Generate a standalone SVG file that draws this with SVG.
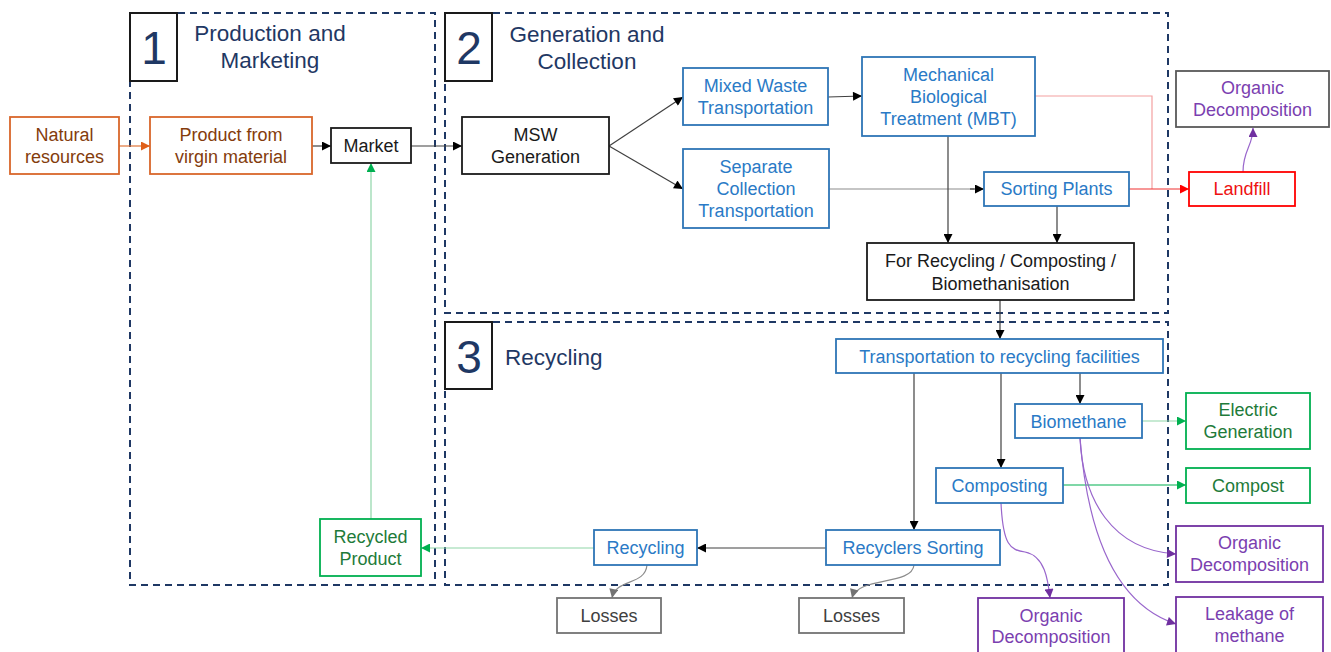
<svg xmlns="http://www.w3.org/2000/svg" width="1331" height="652" viewBox="0 0 1331 652">
  <style>
    text { font-family: "Liberation Sans", Arial, sans-serif; font-size: 18px; text-anchor: middle; }
    .title { font-size: 22.5px; fill: #1f3864; }
    .num { font-size: 46px; fill: #1f3864; }
    .panel { fill: none; stroke: #1f3864; stroke-width: 2; stroke-dasharray: 7 5; }
    .numbox { fill: #fff; stroke: #1a1a1a; stroke-width: 2; }
    rect.n { fill: #fff; stroke-width: 1.8; }
    .k rect { stroke: #1a1a1a; } .k text { fill: #1a1a1a; }
    .b rect { stroke: #2e75b6; } .b text { fill: #2a7ac6; }
    .g rect { stroke: #00b050; } .g text { fill: #1e7b3a; }
    .p rect { stroke: #7030a0; } .p text { fill: #7b3fb0; }
    .o rect { stroke: #d9662b; } .o text { fill: #843c0c; }
    .r rect { stroke: #ff0000; } .r text { fill: #ee1111; }
    .gr rect { stroke: #737373; } .gr text { fill: #404040; }
    .gp rect { stroke: #595959; } .gp text { fill: #7b3fb0; }
    .c { fill: none; stroke-width: 1.2; }
    .ck { stroke: #404040; marker-end: url(#ah-k); }
    .cg { stroke: #8fd6a8; marker-end: url(#ah-g); }
    .cg2 { stroke: #00b050; marker-end: url(#ah-g); }
    .cr { stroke: #f03030; marker-end: url(#ah-r); }
    .cp { stroke: #9966cc; marker-end: url(#ah-p); }
    .cgr { stroke: #8c8c8c; marker-end: url(#ah-gr); }
    .co { stroke: #e0763a; marker-end: url(#ah-o); }
  </style>
  <defs>
    <marker id="ah-k" viewBox="0 0 10 10" refX="10" refY="5" markerWidth="10" markerHeight="9" orient="auto" markerUnits="userSpaceOnUse"><path d="M0,0 L10,5 L0,10 z" fill="#000"/></marker>
    <marker id="ah-g" viewBox="0 0 10 10" refX="10" refY="5" markerWidth="10" markerHeight="9" orient="auto" markerUnits="userSpaceOnUse"><path d="M0,0 L10,5 L0,10 z" fill="#00b050"/></marker>
    <marker id="ah-r" viewBox="0 0 10 10" refX="10" refY="5" markerWidth="10" markerHeight="9" orient="auto" markerUnits="userSpaceOnUse"><path d="M0,0 L10,5 L0,10 z" fill="#ff0000"/></marker>
    <marker id="ah-p" viewBox="0 0 10 10" refX="10" refY="5" markerWidth="10" markerHeight="9" orient="auto" markerUnits="userSpaceOnUse"><path d="M0,0 L10,5 L0,10 z" fill="#7030a0"/></marker>
    <marker id="ah-gr" viewBox="0 0 10 10" refX="10" refY="5" markerWidth="10" markerHeight="9" orient="auto" markerUnits="userSpaceOnUse"><path d="M0,0 L10,5 L0,10 z" fill="#737373"/></marker>
    <marker id="ah-o" viewBox="0 0 10 10" refX="10" refY="5" markerWidth="10" markerHeight="9" orient="auto" markerUnits="userSpaceOnUse"><path d="M0,0 L10,5 L0,10 z" fill="#e0601a"/></marker>
  </defs>
  <rect width="1331" height="652" fill="#fff"/>

  <!-- Stage panels -->
  <g id="panels">
    <rect class="panel" x="130" y="13" width="305" height="572"/>
    <rect class="panel" x="445" y="13" width="723" height="300"/>
    <rect class="panel" x="445" y="322" width="723" height="263"/>
    <rect class="numbox" x="130" y="13" width="47" height="68"/>
    <text class="num" x="154" y="64">1</text>
    <text class="title" x="270" y="41">Production and</text>
    <text class="title" x="270" y="68">Marketing</text>
    <rect class="numbox" x="445" y="13" width="47" height="68"/>
    <text class="num" x="469" y="64">2</text>
    <text class="title" x="587" y="42">Generation and</text>
    <text class="title" x="587" y="69">Collection</text>
    <rect class="numbox" x="445" y="322" width="47" height="67"/>
    <text class="num" x="469" y="373">3</text>
    <text class="title" x="505" y="365" style="text-anchor:start">Recycling</text>
  </g>

  <!-- Connectors -->
  <g id="connectors">
    <path class="c co" d="M119,146 H150"/>
    <path class="c ck" d="M312,146 H331"/>
    <path class="c ck" d="M411,146 H462"/>
    <path class="c ck" d="M609,146 L683,97"/>
    <path class="c ck" d="M609,146 L683,189"/>
    <path class="c ck" d="M828,97 L862,96"/>
    <path class="c" stroke="#8c8c8c" d="M829,189 H974"/>
    <path class="c ck" d="M970,189 H984"/>
    <path class="c ck" d="M948,136 V243"/>
    <path class="c ck" d="M1057,206 V243"/>
    <path class="c" stroke="#f4a0a0" d="M1035,96 H1152 V189"/>
    <path class="c cr" d="M1129,189 H1189"/>
    <path class="c cp" d="M1243,172 C1243,150 1253,146 1253,128"/>
    <path class="c ck" d="M1000,300 V339"/>
    <path class="c ck" d="M1080,373 V404"/>
    <path class="c ck" d="M1001,373 V468"/>
    <path class="c ck" d="M914,373 V530"/>
    <path class="c cg" d="M1142,421 H1186"/>
    <path class="c cg2" d="M1063,485 H1186"/>
    <path class="c cp" d="M1080,438 C1083,500 1112,550 1176,554"/>
    <path class="c cp" d="M1080,438 C1088,540 1118,605 1176,624"/>
    <path class="c cp" d="M1001,503 C1003,545 1010,550 1025,552 C1045,556 1048,580 1050,598"/>
    <path class="c ck" d="M826,548 H697"/>
    <path class="c cg" d="M594,548 H421"/>
    <path class="c cg" d="M371,519 V163"/>
    <path class="c cgr" d="M914,565 C912,586 858,576 852,598"/>
    <path class="c cgr" d="M647,565 C645,586 616,578 612,598"/>
  </g>

  <!-- Nodes -->
  <g id="natural-resources" class="o"><rect class="n" x="10" y="117" width="109" height="57"/><text x="64.5" y="141">Natural</text><text x="64.5" y="163">resources</text></g>
  <g id="virgin-product" class="o"><rect class="n" x="150" y="117" width="162" height="57"/><text x="231" y="141">Product from</text><text x="231" y="163">virgin material</text></g>
  <g id="market" class="k"><rect class="n" x="331" y="128" width="80" height="35"/><text x="371" y="152">Market</text></g>
  <g id="msw-generation" class="k"><rect class="n" x="462" y="117" width="147" height="57"/><text x="535.5" y="141">MSW</text><text x="535.5" y="163">Generation</text></g>
  <g id="mixed-waste" class="b"><rect class="n" x="683" y="68" width="145" height="57"/><text x="755.5" y="92">Mixed Waste</text><text x="755.5" y="114">Transportation</text></g>
  <g id="separate-collection" class="b"><rect class="n" x="683" y="149" width="146" height="79"/><text x="756" y="173">Separate</text><text x="756" y="195">Collection</text><text x="756" y="217">Transportation</text></g>
  <g id="mbt" class="b"><rect class="n" x="862" y="57" width="173" height="79"/><text x="948.5" y="81">Mechanical</text><text x="948.5" y="103">Biological</text><text x="948.5" y="125">Treatment (MBT)</text></g>
  <g id="sorting-plants" class="b"><rect class="n" x="984" y="172" width="145" height="34"/><text x="1056.5" y="195">Sorting Plants</text></g>
  <g id="for-recycling" class="k"><rect class="n" x="867" y="243" width="267" height="57"/><text x="1000.5" y="267">For Recycling / Composting /</text><text x="1000.5" y="290">Biomethanisation</text></g>
  <g id="landfill" class="r"><rect class="n" x="1189" y="172" width="106" height="34"/><text x="1242" y="195">Landfill</text></g>
  <g id="organic-decomposition-landfill" class="gp"><rect class="n" x="1176" y="71" width="153" height="56"/><text x="1252.5" y="94">Organic</text><text x="1252.5" y="116">Decomposition</text></g>
  <g id="transport-recycling" class="b"><rect class="n" x="836" y="339" width="327" height="34"/><text x="999.5" y="362.5">Transportation to recycling facilities</text></g>
  <g id="biomethane" class="b"><rect class="n" x="1015" y="404" width="127" height="34"/><text x="1078.5" y="427.5">Biomethane</text></g>
  <g id="electric-generation" class="g"><rect class="n" x="1186" y="393" width="124" height="56"/><text x="1248" y="416">Electric</text><text x="1248" y="438">Generation</text></g>
  <g id="composting" class="b"><rect class="n" x="936" y="468" width="127" height="35"/><text x="999.5" y="492">Composting</text></g>
  <g id="compost" class="g"><rect class="n" x="1186" y="468" width="124" height="35"/><text x="1248" y="492">Compost</text></g>
  <g id="organic-decomposition-biomethane" class="p"><rect class="n" x="1176" y="526" width="147" height="56"/><text x="1249.5" y="549">Organic</text><text x="1249.5" y="571">Decomposition</text></g>
  <g id="leakage-methane" class="p"><rect class="n" x="1176" y="597" width="147" height="57"/><text x="1249.5" y="620">Leakage of</text><text x="1249.5" y="642">methane</text></g>
  <g id="organic-decomposition-composting" class="p"><rect class="n" x="978" y="598" width="146" height="57"/><text x="1051" y="622">Organic</text><text x="1051" y="643">Decomposition</text></g>
  <g id="recyclers-sorting" class="b"><rect class="n" x="826" y="530" width="174" height="35"/><text x="913" y="554">Recyclers Sorting</text></g>
  <g id="recycling" class="b"><rect class="n" x="594" y="530" width="103" height="35"/><text x="645.5" y="554">Recycling</text></g>
  <g id="recycled-product" class="g"><rect class="n" x="320" y="519" width="101" height="57"/><text x="370.5" y="543">Recycled</text><text x="370.5" y="565">Product</text></g>
  <g id="losses-recycling" class="gr"><rect class="n" x="557" y="598" width="104" height="35"/><text x="609" y="622">Losses</text></g>
  <g id="losses-sorting" class="gr"><rect class="n" x="799" y="598" width="105" height="35"/><text x="851.5" y="622">Losses</text></g>
</svg>
